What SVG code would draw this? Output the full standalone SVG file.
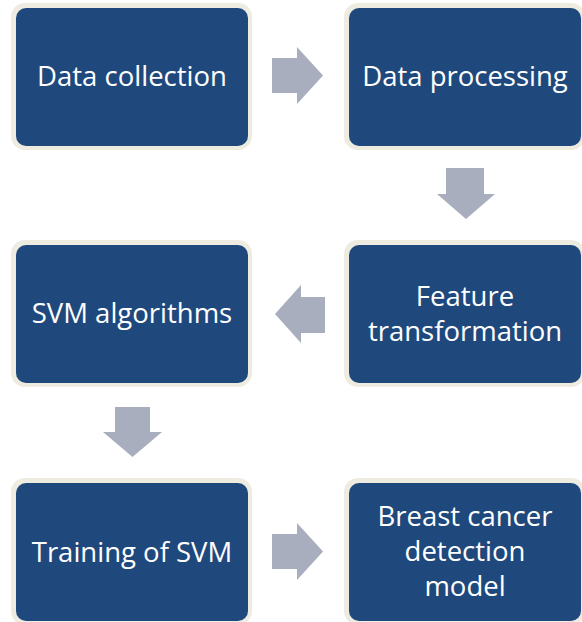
<svg xmlns="http://www.w3.org/2000/svg" width="582" height="622" viewBox="0 0 582 622">
  <style>
    .frame { fill: #EEECE1; }
    .box { fill: #1F497D; }
    .label { fill: #FFFFFF; font-family: "Open Sans", "Noto Sans", "Liberation Sans", sans-serif; font-size: 27.5px; text-anchor: middle; }
    .arrow { fill: #A8AEBD; }
  </style>
  <rect width="582" height="622" fill="#FFFFFF"/>

  <!-- Process steps -->
  <g id="data-collection">
    <rect class="frame" x="11" y="3" width="241" height="147" rx="14"/>
    <rect class="box" x="16" y="8" width="232" height="138" rx="10"/>
    <text class="label" x="132" y="86">Data collection</text>
  </g>
  <g id="data-processing">
    <rect class="frame" x="344" y="3" width="241" height="147" rx="14"/>
    <rect class="box" x="349" y="8" width="232" height="138" rx="10"/>
    <text class="label" x="465" y="86">Data processing</text>
  </g>
  <g id="feature-transformation">
    <rect class="frame" x="344" y="240" width="241" height="147" rx="14"/>
    <rect class="box" x="349" y="245" width="232" height="138" rx="10"/>
    <text class="label" x="465" y="306">Feature</text>
    <text class="label" x="465" y="341">transformation</text>
  </g>
  <g id="svm-algorithms">
    <rect class="frame" x="11" y="240" width="241" height="147" rx="14"/>
    <rect class="box" x="16" y="245" width="232" height="138" rx="10"/>
    <text class="label" x="132" y="323">SVM algorithms</text>
  </g>
  <g id="training-of-svm">
    <rect class="frame" x="11" y="478" width="241" height="147" rx="14"/>
    <rect class="box" x="16" y="483" width="232" height="138" rx="10"/>
    <text class="label" x="132" y="562">Training of SVM</text>
  </g>
  <g id="detection-model">
    <rect class="frame" x="344" y="478" width="241" height="147" rx="14"/>
    <rect class="box" x="349" y="483" width="232" height="138" rx="10"/>
    <text class="label" x="465" y="526">Breast cancer</text>
    <text class="label" x="465" y="561">detection</text>
    <text class="label" x="465" y="596">model</text>
  </g>

  <!-- Block arrows between steps -->
  <g id="connectors">
    <polygon class="arrow" points="272,58 297,58 297,47 323,75.5 297,104 297,93 272,93"/>
    <polygon class="arrow" points="446,168 484,168 484,194 495,194 466,219 437,194 446,194"/>
    <polygon class="arrow" points="325,297 301,297 301,285 275,314 301,343 301,333 325,333"/>
    <polygon class="arrow" points="115,407 150,407 150,432 162,432 132.5,457 103,432 115,432"/>
    <polygon class="arrow" points="272,534 297,534 297,523 323,551.5 297,580 297,569 272,569"/>
  </g>
</svg>
